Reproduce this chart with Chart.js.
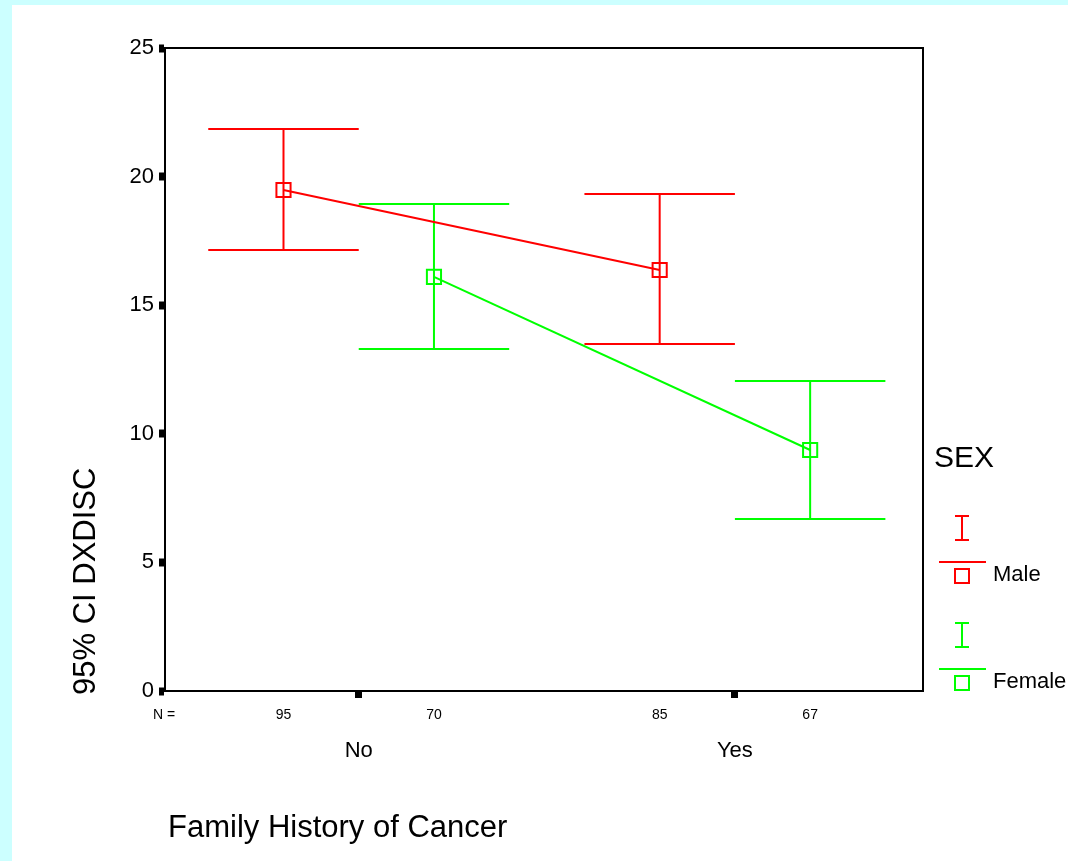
<!DOCTYPE html>
<html>
<head>
<meta charset="utf-8">
<script src="https://cdn.jsdelivr.net/npm/chart.js@4/dist/chart.umd.min.js"></script>
<style>
  html, body { margin: 0; padding: 0; background: #ccffff; }
  #panel { position: absolute; left: 12px; top: 5px; right: 0; bottom: 0; background: #fff; }
  #wrap { position: absolute; left: 0; top: 0; width: 1068px; height: 861px; }
</style>
</head>
<body>
<div id="panel"></div>
<div id="wrap"><canvas id="chart" width="1068" height="861"></canvas></div>
<script>
// Family History of Cancer x SEX, 95% CI of DXDISC
const categories = ['No', 'Yes'];
const maleMean = [19.48, 16.37];
const maleLower = [17.15, 13.49];
const maleUpper = [21.85, 19.32];
const maleN = [95, 85];
const femaleMean = [16.10, 9.37];
const femaleLower = [13.30, 6.69];
const femaleUpper = [18.93, 12.05];
const femaleN = [70, 67];

const series = [
  { label: 'Male', color: '#ff0000', offset: -0.2, mean: maleMean, lower: maleLower, upper: maleUpper, n: maleN },
  { label: 'Female', color: '#00ff00', offset: 0.2, mean: femaleMean, lower: femaleLower, upper: femaleUpper, n: femaleN }
];
const capHalf = 0.2;
const FONT = '"Liberation Sans", Arial, sans-serif';
const NARROW = '"Liberation Sans Narrow", "Liberation Sans", Arial, sans-serif';

const errorBars = {
  id: 'errorBars',
  beforeDatasetsDraw(chart) {
    const ctx = chart.ctx, xs = chart.scales.x, ys = chart.scales.y;
    ctx.save();
    ctx.lineWidth = 2;
    series.forEach(s => {
      ctx.strokeStyle = s.color;
      categories.forEach((c, i) => {
        const xv = i + 1 + s.offset;
        const x = xs.getPixelForValue(xv);
        const x0 = xs.getPixelForValue(xv - capHalf), x1 = xs.getPixelForValue(xv + capHalf);
        const yl = ys.getPixelForValue(s.lower[i]), yu = ys.getPixelForValue(s.upper[i]);
        ctx.beginPath();
        ctx.moveTo(x, yl); ctx.lineTo(x, yu);
        ctx.moveTo(x0, yl); ctx.lineTo(x1, yl);
        ctx.moveTo(x0, yu); ctx.lineTo(x1, yu);
        ctx.stroke();
      });
    });
    ctx.restore();
  },
  afterDraw(chart) {
    const ctx = chart.ctx, xs = chart.scales.x, a = chart.chartArea;
    ctx.save();
    // frame
    ctx.strokeStyle = '#000';
    ctx.lineWidth = 2;
    ctx.strokeRect(a.left, a.top, a.right - a.left, a.bottom - a.top);

    // N = counts
    ctx.fillStyle = '#000';
    ctx.font = '14px ' + NARROW;
    ctx.textBaseline = 'middle';
    ctx.textAlign = 'left';
    ctx.fillText('N =', 153, 715);
    ctx.textAlign = 'center';
    series.forEach(s => {
      categories.forEach((c, i) => {
        ctx.fillText(String(s.n[i]), xs.getPixelForValue(i + 1 + s.offset), 715);
      });
    });

    // axis titles
    ctx.font = '31px ' + FONT;
    ctx.textAlign = 'left';
    ctx.fillText('Family History of Cancer', 168, 828);
    ctx.save();
    ctx.translate(86, 695);
    ctx.rotate(-Math.PI / 2);
    ctx.fillText('95% CI DXDISC', 0, 0);
    ctx.restore();

    // legend
    ctx.font = '30px ' + FONT;
    ctx.fillText('SEX', 934, 459);
    ctx.font = '22px ' + FONT;
    series.forEach((s, k) => {
      const dy = k * 107;
      const cx = 962;
      ctx.strokeStyle = s.color;
      ctx.lineWidth = 2;
      ctx.beginPath();
      ctx.moveTo(cx, 516 + dy); ctx.lineTo(cx, 540 + dy);
      ctx.moveTo(cx - 7, 516 + dy); ctx.lineTo(cx + 7, 516 + dy);
      ctx.moveTo(cx - 7, 540 + dy); ctx.lineTo(cx + 7, 540 + dy);
      ctx.moveTo(939, 562 + dy); ctx.lineTo(986, 562 + dy);
      ctx.stroke();
      ctx.strokeRect(cx - 7, 569 + dy, 14, 14);
      ctx.fillStyle = '#000';
      ctx.fillText(s.label, 993, 575 + dy);
    });
    ctx.restore();
  }
};

new Chart(document.getElementById('chart'), {
  type: 'line',
  data: {
    datasets: series.map(s => ({
      label: s.label,
      data: categories.map((c, i) => ({ x: i + 1 + s.offset, y: s.mean[i] })),
      borderColor: s.color,
      borderWidth: 2,
      pointStyle: 'rect',
      pointRadius: 10,
      pointBorderWidth: 2,
      pointBorderColor: s.color,
      pointBackgroundColor: 'rgba(0,0,0,0)',
      tension: 0
    }))
  },
  options: {
    responsive: false,
    animation: false,
    events: [],
    layout: { padding: { left: 0, top: 48, right: 145, bottom: 0 } },
    plugins: { legend: { display: false }, tooltip: { enabled: false } },
    scales: {
      x: {
        type: 'linear',
        min: 0.485,
        max: 2.5,
        afterBuildTicks: scale => { scale.ticks = categories.map((c, i) => ({ value: i + 1 })); },
        afterFit: scale => { scale.height = 861 - 691; },
        ticks: {
          callback: v => categories[v - 1] || '',
          color: '#000',
          font: { size: 22, family: NARROW },
          padding: 40,
          maxRotation: 0
        },
        grid: { drawOnChartArea: false, tickLength: 7, tickWidth: 7, tickColor: '#000' },
        border: { display: true, color: '#000', width: 2 }
      },
      y: {
        min: 0,
        max: 25,
        ticks: { stepSize: 5, color: '#000', font: { size: 22, family: FONT }, padding: 5 },
        afterFit: scale => { scale.width = 165; },
        grid: { drawOnChartArea: false, tickLength: 6, tickWidth: 8, tickColor: '#000' },
        border: { display: true, color: '#000', width: 2 }
      }
    }
  },
  plugins: [errorBars]
});
</script>
</body>
</html>
